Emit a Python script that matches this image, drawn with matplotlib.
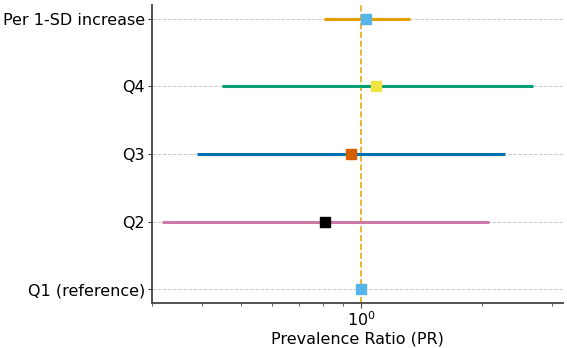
import matplotlib
matplotlib.use("Agg")
import matplotlib.pyplot as plt

# forest plot data (bottom to top)
labels = ["Q1 (reference)", "Q2", "Q3", "Q4", "Per 1-SD increase"]
pr = [1.0, 0.81, 0.94, 1.09, 1.03]
ci_low = [1.0, 0.318, 0.389, 0.449, 0.805]
ci_high = [1.0, 2.08, 2.29, 2.68, 1.32]
line_colors = ["#56B4E9", "#CC79A7", "#0072B2", "#009E73", "#E69F00"]
marker_colors = ["#56B4E9", "#000000", "#D55E00", "#F0E442", "#56B4E9"]

fig, ax = plt.subplots(figsize=(5.67, 3.48), dpi=100)

ypos = list(range(len(labels)))
for y, p, lo, hi, lc, mc in zip(ypos, pr, ci_low, ci_high, line_colors, marker_colors):
    if hi > lo:
        ax.plot([lo, hi], [y, y], color=lc, linewidth=2.2, solid_capstyle="butt", zorder=2)
    ax.plot(p, y, marker="s", color=mc, markersize=6.5, linestyle="none", zorder=3)

ax.axvline(1.0, color="#E6A817", linestyle="--", linewidth=1.2, zorder=1)

ax.set_xscale("log")
ax.set_xlim(0.30, 3.19)
ax.set_yticks(ypos)
ax.set_yticklabels(labels, fontsize=11.5)
ax.tick_params(axis="y", length=3, pad=2, color="#444444")
ax.tick_params(axis="x", labelsize=11.5, pad=2, color="#444444")
ax.tick_params(axis="x", which="minor", color="#444444")
ax.set_xlabel("Prevalence Ratio (PR)", fontsize=11.5, labelpad=2)
ax.grid(axis="y", linestyle="--", color="#cccccc", linewidth=0.7)
ax.set_axisbelow(True)

for side in ["top", "right"]:
    ax.spines[side].set_visible(False)
for side in ["left", "bottom"]:
    ax.spines[side].set_color("#444444")
    ax.spines[side].set_linewidth(1.3)

plt.subplots_adjust(left=0.268, right=0.993, top=0.985, bottom=0.13)
plt.savefig("out.png")
